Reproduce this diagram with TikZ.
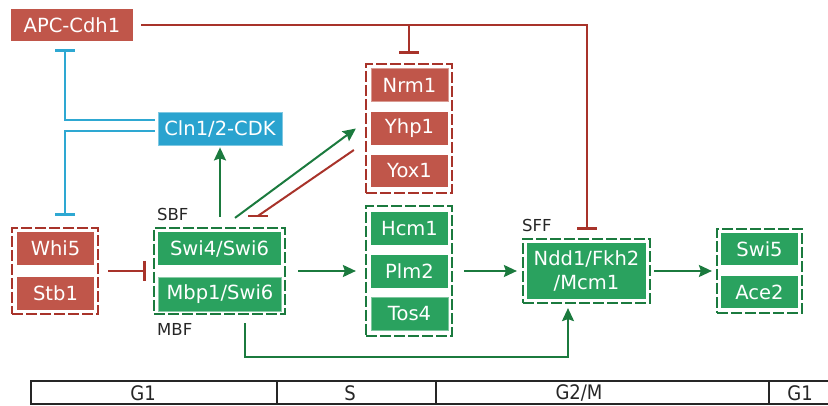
\documentclass[tikz,border=0pt]{standalone}
\usepackage{fontspec}
\setmainfont{DejaVu Sans}
\newfontfamily\condfont[FakeStretch=0.9]{DejaVu Sans}
\usetikzlibrary{arrows.meta}
\definecolor{rbox}{HTML}{C0564A}
\definecolor{rline}{HTML}{A8332A}
\definecolor{gbox}{HTML}{2AA25F}
\definecolor{gline}{HTML}{1B7A3E}
\definecolor{bbox}{HTML}{2AA3CF}
\definecolor{bline}{HTML}{2EA8D2}
\tikzset{
  gene/.style={inner sep=0pt, text=white, font=\fontsize{19.5}{23}\selectfont, minimum width=77pt, minimum height=33pt},
  redbox/.style={gene, fill=rbox},
  greenbox/.style={gene, fill=gbox},
  bluebox/.style={gene, fill=bbox, draw=bbox!60!white, line width=0.8pt},
  grp/.style={inner sep=0pt, line width=2.2pt, dash pattern=on 11pt off 3pt},
  rgrp/.style={grp, draw=rline},
  ggrp/.style={grp, draw=gline},
  glbl/.style={font=\fontsize{16.5}{19}\selectfont, text=black!85, anchor=west, inner sep=0pt},
  garr/.style={draw=gline, line width=2pt, -{Stealth[length=13pt,width=12pt,inset=2pt]}},
  rinh/.style={draw=rline, line width=2pt, -{Bar[width=20pt,line width=2.5pt]}},
  binh/.style={draw=bline, line width=2pt, -{Bar[width=20pt,line width=2.5pt]}},
  tlfont/.style={font=\condfont\fontsize{20}{22}\selectfont, text=black!85, inner sep=0pt},
  tl/.style={draw=black!85, line width=1.8pt, inner sep=0pt, minimum height=23pt}
}
\begin{document}
\begin{tikzpicture}[x=1pt,y=-1pt]
\useasboundingbox (0,0) rectangle (828,406);
% groups (dashed frames)
\node[rgrp, minimum width=86pt, minimum height=129pt] (nrmgrp) at (409,128.5) {};
\node[ggrp, minimum width=86pt, minimum height=130pt] (hcmgrp) at (409,271) {};
\node[rgrp, minimum width=86pt, minimum height=86pt] (whigrp) at (55,271) {};
\node[ggrp, minimum width=131pt, minimum height=86pt] (swigrp) at (219.5,271) {};
\node[ggrp, minimum width=127pt, minimum height=64pt] (sffgrp) at (586.5,271) {};
\node[ggrp, minimum width=85pt, minimum height=84pt] (swi5grp) at (759.5,271) {};
% gene boxes
\node[redbox, minimum width=122pt, minimum height=32pt] (apc) at (72,25) {APC-Cdh1};
\node[redbox, draw=rbox!60!white, line width=0.8pt] (nrm1) at (409.5,85) {Nrm1};
\node[redbox] (yhp1) at (409.5,128.5) {Yhp1};
\node[redbox, minimum height=32pt] (yox1) at (409.5,171) {Yox1};
\node[greenbox] (hcm1) at (409.5,228.5) {Hcm1};
\node[greenbox] (plm2) at (409.5,271.5) {Plm2};
\node[greenbox, draw=gbox!60!white, line width=0.8pt] (tos4) at (409.5,313.5) {Tos4};
\node[redbox] (whi5) at (55.5,248.5) {Whi5};
\node[redbox] (stb1) at (55.5,293.5) {Stb1};
\node[greenbox, minimum width=123pt] (swi4) at (219.5,248.5) {Swi4/Swi6};
\node[greenbox, minimum width=123pt, minimum height=34pt, draw=gbox!55!white, line width=0.8pt] (mbp1) at (220,294) {Mbp1/Swi6};
\node[bluebox, minimum width=124pt] (cln) at (220,128.5) {Cln1/2-CDK};
\node[greenbox, minimum width=119pt, minimum height=56pt, align=center, font=\fontsize{19.5}{24}\selectfont] (sff) at (586.5,271) {Ndd1/Fkh2\\/Mcm1};
\node[greenbox, minimum height=32pt] (swi5) at (759.5,249) {Swi5};
\node[greenbox, minimum height=32pt] (ace2) at (759.5,292) {Ace2};
% labels
\node[glbl] (sbf) at (157,214) {SBF};
\node[glbl] (mbf) at (157,329) {MBF};
\node[glbl] (sffl) at (522,225) {SFF};
% connectors
\draw[rinh, shorten <=8pt, shorten >=8pt] (apc.east) -| (sffgrp.north);
\draw[rinh, shorten >=9pt] (nrmgrp.north |- apc.east) -- (nrmgrp.north);
\draw[binh, shorten >=8pt] ([xshift=-3pt,yshift=8.5pt]cln.west) -| ([xshift=-7pt]apc.south);
\draw[binh, shorten >=11pt] ([xshift=-3pt,yshift=-2.5pt]cln.west) -| ([xshift=10pt]whigrp.north);
\draw[garr, shorten <=10pt, shorten >=2pt] (cln.south |- swigrp.north) -- (cln.south);
\draw[garr] ([xshift=15.5pt,yshift=9pt]swigrp.north) -- ([xshift=-9pt]nrmgrp.west);
\draw[draw=rline, line width=2pt] ([xshift=-11pt,yshift=-21.5pt]nrmgrp.west) -- ([xshift=38.5pt,yshift=11pt]swigrp.north) coordinate (rb);
\draw[draw=rline, line width=2.5pt] ([xshift=-10pt]rb) -- ([xshift=10pt]rb);
\draw[rinh, shorten <=9pt, shorten >=7pt] (whigrp.east) -- (swigrp.west);
\draw[garr, shorten <=12pt, shorten >=9pt] (swigrp.east) -- (hcmgrp.west);
\draw[garr, shorten <=11pt, shorten >=5pt] (hcmgrp.east) -- (sffgrp.west);
\draw[garr, shorten <=3pt, shorten >=4pt] (sffgrp.east) -- (swi5grp.west);
\draw[garr, shorten >=4pt] ([xshift=25.5pt,yshift=-8pt]swigrp.south) -- ++(0,34) -| ([xshift=-18.5pt]sffgrp.south);
% timeline
\node[tl, minimum width=246pt] (t1) at (154,392.5) {};
\node[tl, minimum width=159pt] (t2) at (356.5,392.5) {};
\node[tl, minimum width=333pt] (t3) at (602.5,392.5) {};
\node[tl, minimum width=80pt] (t4) at (809,392.5) {};
\node[tlfont] (l1) at (143,393.5) {G1};
\node[tlfont] (l2) at (350,393.5) {S};
\node[tlfont] (l3) at (579,393.5) {G2/M};
\node[tlfont] (l4) at (800,393.5) {G1};
\end{tikzpicture}
\end{document}
